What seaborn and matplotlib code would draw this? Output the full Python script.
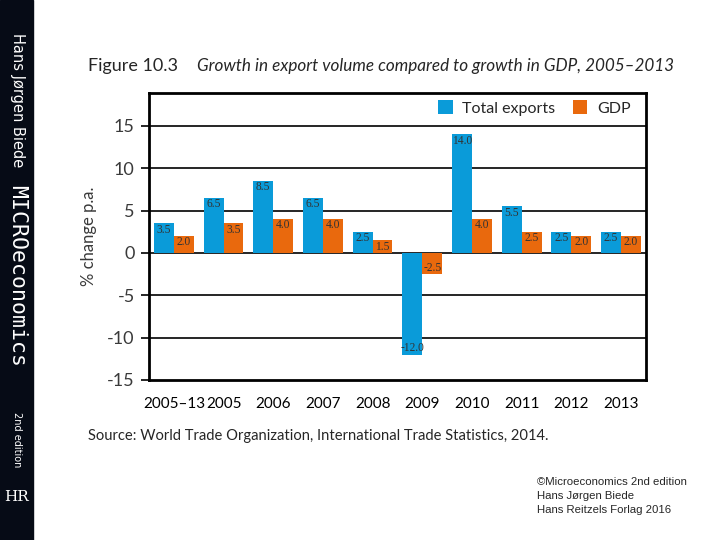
import pandas as pd
import matplotlib.pyplot as plt
import seaborn as sns
from matplotlib.ticker import FixedLocator

##### DATA #####
categories = ["2005\u201313", "2005", "2006", "2007", "2008", "2009", "2010", "2011", "2012", "2013"]
exports = [3.5, 6.5, 8.5, 6.5, 2.5, -12.0, 14.0, 5.5, 2.5, 2.5]
gdp = [2.0, 3.5, 4.0, 4.0, 1.5, -2.5, 4.0, 2.5, 2.0, 2.0]
y_ticks = [-15, -10, -5, 0, 5, 10, 15]

df = pd.DataFrame({
    "period": categories * 2,
    "value": exports + gdp,
    "series": ["Total exports"] * len(exports) + ["GDP"] * len(gdp),
})

##### STYLE #####
sns.set_style("white")
plt.rcParams['font.family'] = ['Lato', 'DejaVu Sans']
blue = "#0a9bd9"
orange = "#e9690d"

fig = plt.figure(figsize=(7.2, 5.4), dpi=100)
ax = fig.add_axes([0.207, 0.2963, 0.690, 0.532])

sns.barplot(data=df, x="period", y="value", hue="series", order=categories,
            hue_order=["Total exports", "GDP"], palette=[blue, orange],
            width=0.8, saturation=1, linewidth=0, ax=ax, zorder=3)

# value labels inside bar ends
for cont in ax.containers:
    ax.bar_label(cont, fmt="%.1f", label_type="edge", padding=-9,
                 fontsize=8.3, family="Liberation Serif", color="#333333", zorder=4)

##### AXES #####
ax.set_ylim(-15, 18.9)
ax.set_xlim(-0.5, len(categories) - 0.5)
ax.set_yticks(y_ticks)
ax.set_yticklabels([str(v) for v in y_ticks], fontsize=13, color="#3a3a3a")
for v in y_ticks[1:]:
    ax.axhline(v, color="black", lw=1.2, zorder=1)

ax.set_xticks(range(len(categories)))
ax.set_xticklabels(categories, fontsize=11, color="black")
ax.xaxis.set_minor_locator(FixedLocator([i - 0.5 for i in range(len(categories) + 1)]))
ax.tick_params(axis="x", which="major", length=0, pad=12)
ax.tick_params(axis="x", which="minor", length=5.5, width=1.2, color="black", direction="out")
ax.tick_params(axis="y", length=5.8, width=1.2, color="black", direction="out", left=True, pad=4.5)

for s in ax.spines.values():
    s.set_color("black")
    s.set_linewidth(2)
    s.set_visible(True)

ax.set_xlabel("")
ax.set_ylabel("% change p.a.", fontsize=12, color="#3a3a3a", labelpad=7)

ax.legend(loc="center right", bbox_to_anchor=(0.982, 0.947), ncol=2, frameon=False,
          fontsize=11.5, handlelength=0.9, handleheight=0.9, handletextpad=0.6,
          columnspacing=1.1, borderaxespad=0)

##### TITLE / SOURCE #####
fig.text(88 / 720, 1 - 66 / 540, "Figure 10.3", fontsize=13, va="center", ha="left")
fig.text(197 / 720, 1 - 66 / 540, "Growth in export volume compared to growth in GDP, 2005\u20132013",
         fontsize=12.3, style="italic", va="center", ha="left")
fig.text(88 / 720, 1 - 436 / 540, "Source: World Trade Organization, International Trade Statistics, 2014.",
         fontsize=10.6, va="center", ha="left")

fig.text(537 / 720, 1 - 477 / 540, "\u00a9Microeconomics 2nd edition\nHans J\u00f8rgen Biede\nHans Reitzels Forlag 2016",
         fontsize=8.2, va="top", ha="left", family="Liberation Sans", linespacing=1.5)

##### LEFT SPINE STRIPE (BOOK COVER) #####
fig.patches.append(plt.Rectangle((0, 0), 33 / 720, 1, transform=fig.transFigure,
                                 color="#060b16", zorder=0))
fig.text(17 / 720, 1 - 100 / 540, "Hans J\u00f8rgen Biede", rotation=270, color="white",
         fontsize=10.5, family="DejaVu Sans", ha="center", va="center")
fig.text(17 / 720, 1 - 276 / 540, "MICROeconomics", rotation=270, color="white",
         fontsize=15.5, family="DejaVu Sans Mono", ha="center", va="center")
fig.text(17 / 720, 1 - 440 / 540, "2nd edition", rotation=270, color="white",
         fontsize=7, family="DejaVu Sans", ha="center", va="center")
fig.text(17 / 720, 1 - 497 / 540, "HR", color="white", fontsize=11,
         family="DejaVu Serif", ha="center", va="center")

plt.savefig("out.png", dpi=100)
